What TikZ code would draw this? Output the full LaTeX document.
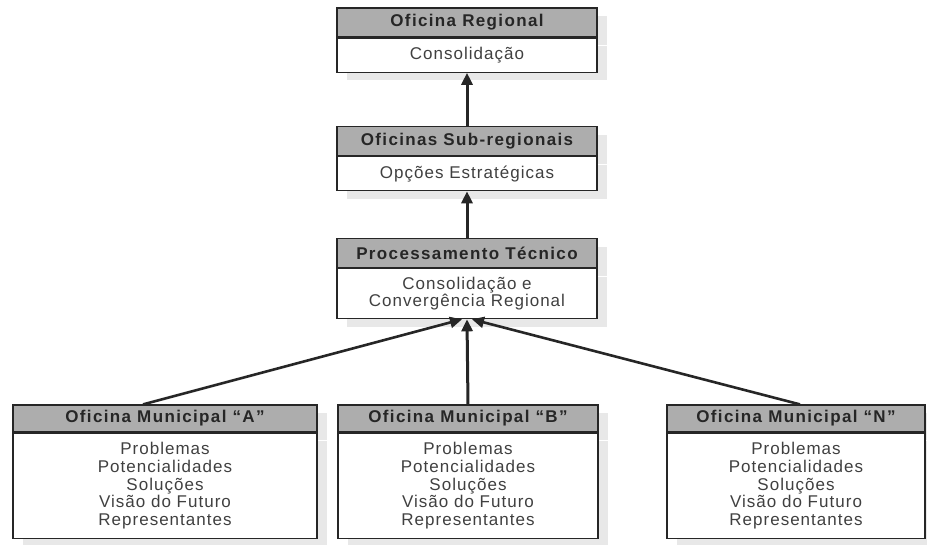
\documentclass[tikz,border=0pt]{standalone}
\usepackage{fontspec}
\setmainfont{Liberation Sans}[LetterSpace=6, BoldFeatures={LetterSpace=8}]
\usetikzlibrary{arrows.meta,shadows,calc}

\tikzset{
	head/.style={draw=black!85, fill=black!32, line width=1.2pt, inner sep=0pt,
		minimum width=260pt, minimum height=29pt, text=black!85,
		font=\bfseries\fontsize{17}{19}\selectfont,
		drop shadow={shadow xshift=10pt, shadow yshift=-8pt, fill=black!9, opacity=1}},
	body/.style={draw=black!85, fill=white, line width=1.2pt, inner sep=0pt, anchor=north,
		minimum width=260pt, align=center, text=black!75,
		font=\fontsize{17}{17.7}\selectfont,
		drop shadow={shadow xshift=10pt, shadow yshift=-8pt, fill=black!9, opacity=1}},
	link/.style={line width=3pt, draw=black!85, -{Triangle[width=11pt,length=12pt]}}
}

\begin{document}
\begin{tikzpicture}[x=1pt, y=-1pt]
		%%%%% START %%%%%
		\useasboundingbox (0, 0) rectangle (927, 544);
		
		% regional
		\node[head] (regHead) at (467, 22.5) {Oficina Regional};
		\node[body, minimum height=34pt] (regBody) at (regHead.south) {Consolidação};
		
		% sub-regional
		\node[head] (subHead) at (467, 141) {Oficinas Sub-regionais};
		\node[body, minimum height=34pt] (subBody) at (subHead.south) {Opções Estratégicas};
		
		% tecnico
		\node[head] (procHead) at (467, 253) {Processamento Técnico};
		\node[body, minimum height=50pt] (procBody) at (procHead.south) {Consolidação e\\Convergência Regional};
		
		% municipais
		\node[head, minimum width=304pt, minimum height=27pt] (munAHead) at (165, 418.5) {Oficina Municipal “A”};
		\node[body, minimum width=304pt, minimum height=105pt] (munABody) at (munAHead.south) {Problemas\\Potencialidades\\Soluções\\Visão do Futuro\\Representantes};
		
		\node[head, minimum height=27pt] (munBHead) at (468, 418.5) {Oficina Municipal “B”};
		\node[body, minimum height=105pt] (munBBody) at (munBHead.south) {Problemas\\Potencialidades\\Soluções\\Visão do Futuro\\Representantes};
		
		\node[head, minimum width=258pt, minimum height=27pt] (munNHead) at (796, 418.5) {Oficina Municipal “N”};
		\node[body, minimum width=258pt, minimum height=105pt] (munNBody) at (munNHead.south) {Problemas\\Potencialidades\\Soluções\\Visão do Futuro\\Representantes};
		
		% arrows
		\draw[link] (subHead.north) -- (regBody.south);
		\draw[link] (procHead.north) -- (subBody.south);
		
		\coordinate (aFoot) at ($(munAHead.north)+(-22, 0)$);
		\coordinate (nFoot) at ($(munNHead.north)+(4, 0)$);
		\draw[link, line width=2.6pt] (aFoot) -- ($(procBody.south)+(-5, 0)$);
		\draw[link] (munBHead.north) -- (procBody.south);
		\draw[link, line width=2.6pt] (nFoot) -- ($(procBody.south)+(5, 0)$);
		
		%%%%% END %%%%%
	\end{tikzpicture}
\end{document}
